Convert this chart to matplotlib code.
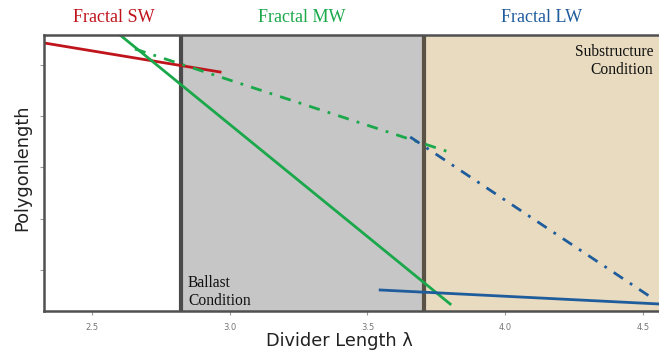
import matplotlib
matplotlib.use("Agg")
import matplotlib.pyplot as plt

# Data
sw_x = [2.326, 2.965]
sw_y = [5.43, 4.863]
mw_x = [2.602, 3.800]
mw_y = [5.585, 0.337]
mw_dd_x = [2.656, 3.796]
mw_dd_y = [5.312, 3.302]
lw_x = [3.546, 4.558]
lw_y = [0.61, 0.337]
lw_dd_x = [3.655, 4.544]
lw_dd_y = [3.595, 0.415]
boundaries = [2.823, 3.705]
xticks = [2.5, 3.0, 3.5, 4.0, 4.5]
xticklabels = ["2.5", "3.0", "3.5", "4.0", "4.5"]
yticks = [1, 2, 3, 4, 5]

xlim = (2.326, 4.558)
ylim = (0.2, 5.585)

red = "#c0141c"
green = "#1aa84b"
blue = "#1f5c9c"

fig = plt.figure(figsize=(6.59, 3.51), dpi=100)
ax = fig.add_axes([44/659, 40/351, 1 - 44/659, (311-35)/351])
ax.set_xlim(*xlim)
ax.set_ylim(*ylim)

ax.axvspan(xlim[0], boundaries[0], color="white", zorder=0)
ax.axvspan(boundaries[0], boundaries[1], color="#c6c6c6", zorder=0)
ax.axvspan(boundaries[1], xlim[1], color="#e8dbc0", zorder=0)
ax.axvline(boundaries[0], color="#4a4a4a", lw=3, zorder=1)
ax.axvline(boundaries[1], color="#5a5244", lw=3, zorder=1)

ax.plot(sw_x, sw_y, color=red, lw=2, zorder=3)
ax.plot(mw_x, mw_y, color=green, lw=2, zorder=3)
ax.plot(mw_dd_x, mw_dd_y, color=green, lw=2, ls=(0, (4, 3, 1, 3)), zorder=3)
ax.plot(lw_x, lw_y, color=blue, lw=2, zorder=3)
ax.plot(lw_dd_x, lw_dd_y, color=blue, lw=2, ls=(0, (4, 3, 1, 3)), zorder=3)

for s in ["left", "bottom", "top"]:
    ax.spines[s].set_color("#505050")
    ax.spines[s].set_linewidth(1.8)
    ax.spines[s].set_zorder(4)
ax.spines["right"].set_visible(False)

ax.set_xticks(xticks)
ax.set_xticklabels(xticklabels, fontsize=6, color="#777777")
ax.set_yticks(yticks)
ax.set_yticklabels([])
ax.tick_params(axis="both", length=3, color="#999999", width=0.8)
ax.tick_params(axis="x", pad=6)

fig.text(339/659, 1 - 341/351, "Divider Length λ", fontsize=12.8,
         color="#222222", family="DejaVu Sans", ha="center", va="center")
fig.text(22/659, 1 - 168/351, "Polygonlength", fontsize=12.8, rotation=90,
         color="#222222", family="DejaVu Sans", ha="center", va="center")

serif = "Liberation Serif"
fig.text(114/659, 1 - 18/351, "Fractal SW", color=red, fontsize=13,
         family=serif, ha="center", va="center")
fig.text(302/659, 1 - 18/351, "Fractal MW", color=green, fontsize=13,
         family=serif, ha="center", va="center")
fig.text(542/659, 1 - 18/351, "Fractal LW", color=blue, fontsize=13,
         family=serif, ha="center", va="center")

fig.text(188/659, 1 - 292/351, "Ballast\nCondition", color="#111111",
         fontsize=11.2, family=serif, ha="left", va="center", linespacing=1.2,
         multialignment="left")
fig.text(653/659, 1 - 61/351, "Substructure\nCondition", color="#111111",
         fontsize=11.2, family=serif, ha="right", va="center", linespacing=1.2,
         multialignment="right")

fig.savefig("out.png", dpi=100)
